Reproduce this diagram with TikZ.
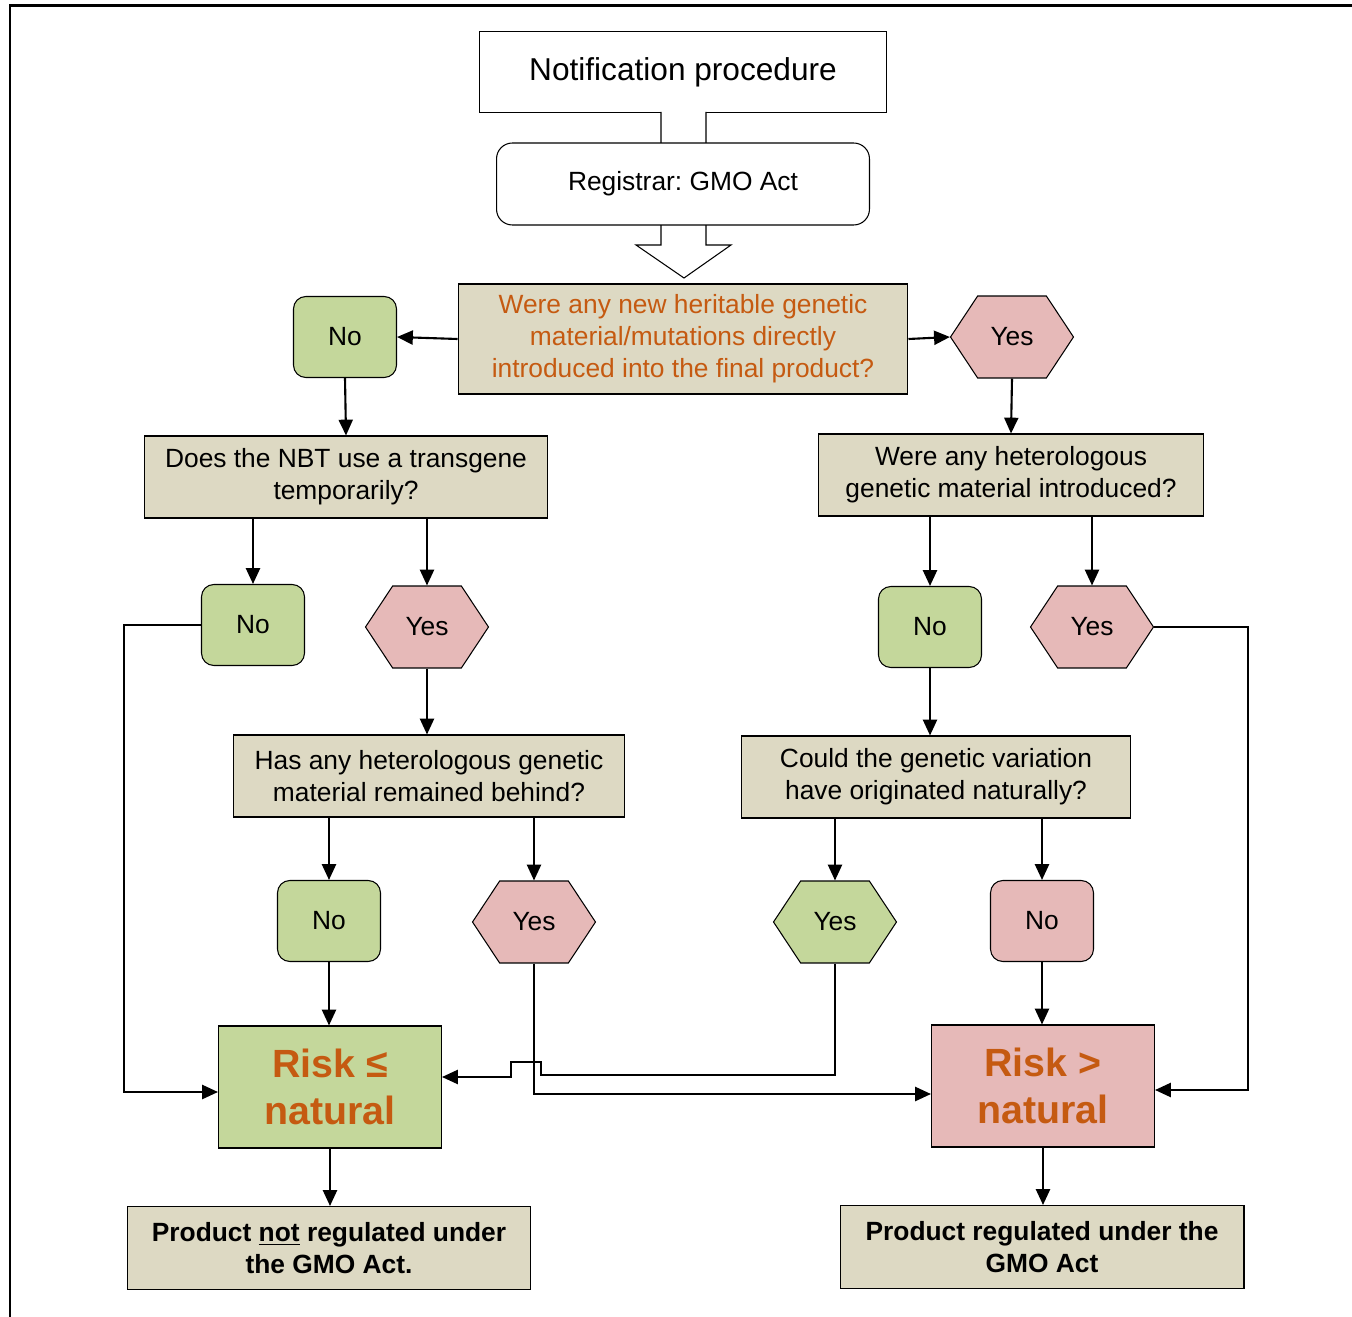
\documentclass[tikz,border=0pt]{standalone}
\usepackage{fontspec}
\setmainfont{Liberation Sans}
\usetikzlibrary{arrows.meta,shapes.symbols}
\frenchspacing

\definecolor{tanfill}{HTML}{DDD9C3}
\definecolor{greenfill}{HTML}{C4D79B}
\definecolor{pinkfill}{HTML}{E6B9B8}
\definecolor{orangetext}{HTML}{C55A11}

\begin{document}
\begin{tikzpicture}[
      x=0.02cm, y=-0.02cm,
      txt/.style={
        font=\fontsize{15}{18.3}\selectfont,
        align=center,
        inner sep=0pt
      },
      question/.style={
        txt,
        draw,
        fill=tanfill,
        line width=0.6pt,
        minimum height=1.64cm
      },
      nobox/.style={
        txt,
        draw,
        rounded corners=7pt,
        line width=0.6pt,
        minimum width=2.06cm,
        minimum height=1.62cm
      },
      yeshex/.style={
        txt,
        draw,
        shape=signal,
        signal to=east and west,
        signal pointer angle=113,
        line width=0.6pt,
        minimum width=2.46cm,
        minimum height=1.64cm
      },
      riskbox/.style={
        draw,
        align=center,
        inner sep=0pt,
        line width=0.6pt,
        text=orangetext,
        font=\fontsize{22.4}{27}\selectfont\bfseries,
        minimum width=4.46cm,
        minimum height=2.44cm
      },
      verdict/.style={
        question,
        font=\fontsize{15}{18.3}\selectfont\bfseries,
        minimum width=8.08cm,
        minimum height=1.66cm
      },
      arr/.style={
        -{Triangle[length=9pt,width=8pt]},
        line width=1.2pt
      }
    ]
    \useasboundingbox (0,0) rectangle (1352,1317);
    \draw[line width=1.7pt] (10,1317) -- (10,6) -- (1352,6);

    % start
    \node[draw, line width=0.6pt, minimum width=8.16cm, minimum height=1.62cm,
          font=\fontsize{18}{22}\selectfont] (notify) at (683,72) {Notification procedure};
    \draw[fill=white, line width=0.6pt] (661,112) -- (661,245) -- (636,245) -- (684,278)
          -- (731,245) -- (706,245) -- (706,112);
    \node[txt, draw, fill=white, rounded corners=9pt, line width=0.6pt,
          minimum width=7.46cm, minimum height=1.64cm] (reg) at (683,184) {Registrar: GMO Act};

    % questions
    \node[question, minimum width=9cm, minimum height=2.2cm, text=orangetext] (q1) at (683,339)
      {Were any new heritable genetic\\ material/mutations directly\\ introduced into the final product?};
    \node[question, minimum width=8.08cm] (q2) at (346,477) {Does the NBT use a transgene\\ temporarily?};
    \node[question, minimum width=7.7cm] (q3) at (1011,475) {Were any heterologous\\ genetic material introduced?};
    \node[question, minimum width=7.82cm] (q4) at (429,776) {Has any heterologous genetic\\ material remained behind?};
    \node[question, minimum width=7.78cm] (q5) at (936,777) {Could the genetic variation\\ have originated naturally?};

    % answers
    \node[nobox, fill=greenfill] (no1) at (345,337) {No};
    \node[yeshex, fill=pinkfill] (yes1) at (1012,337) {Yes};
    \node[nobox, fill=greenfill] (no2) at (253,625) {No};
    \node[yeshex, fill=pinkfill] (yes2) at (427,627) {Yes};
    \node[nobox, fill=greenfill] (no3) at (930,627) {No};
    \node[yeshex, fill=pinkfill] (yes3) at (1092,627) {Yes};
    \node[nobox, fill=greenfill] (no4) at (329,921) {No};
    \node[yeshex, fill=pinkfill] (yes4) at (534,922) {Yes};
    \node[yeshex, fill=greenfill] (yes5) at (835,922) {Yes};
    \node[nobox, fill=pinkfill] (no5) at (1042,921) {No};

    % outcome
    \node[riskbox, fill=greenfill] (r1) at (330,1087) {Risk ≤\\ natural};
    \node[riskbox, fill=pinkfill] (r2) at (1043,1086) {Risk >\\ natural};
    \node[verdict] (b1) at (329,1248) {Product \underline{not} regulated under\\ the GMO Act.};
    \node[verdict] (b2) at (1042,1247) {Product regulated under the\\ GMO Act};

    % connectors
    \draw[arr] (q1.west) -- (no1.east);
    \draw[arr] (q1.east) -- (yes1.west);
    \draw[arr] (no1.south) -- (q2.north);
    \draw[arr] (yes1.south) -- (q3.north);
    \draw[arr] (q2.south -| no2.north) -- (no2.north);
    \draw[arr] (q2.south -| yes2.north) -- (yes2.north);
    \draw[arr] (q3.south -| no3.north) -- (no3.north);
    \draw[arr] (q3.south -| yes3.north) -- (yes3.north);
    \draw[arr] (yes2.south) -- (q4.north -| yes2.south);
    \draw[arr] (no3.south) -- (q5.north -| no3.south);
    \draw[arr] (q4.south -| no4.north) -- (no4.north);
    \draw[arr] (q4.south -| yes4.north) -- (yes4.north);
    \draw[arr] (q5.south -| yes5.north) -- (yes5.north);
    \draw[arr] (q5.south -| no5.north) -- (no5.north);
    \draw[arr] (no4.south) -- (r1.north -| no4.south);
    \draw[arr] (no5.south) -- (r2.north -| no5.south);
    \draw[arr] (no2.west) -- (124,625) -- (124,1092) -- (r1.west |- 0,1092);
    \draw[arr] (yes3.east) -- (1248,627) -- (1248,1090) -- (r2.east |- 0,1090);
    \draw[arr] (yes4.south) -- (534,1094) -- (r2.west |- 0,1094);
    \draw[arr] (yes5.south) -- (835,1075) -- (541,1075) -- (541,1062) -- (511,1062)
          -- (511,1077) -- (r1.east |- 0,1077);
    \draw[arr] (r1.south) -- (b1.north -| r1.south);
    \draw[arr] (r2.south) -- (b2.north -| r2.south);
\end{tikzpicture}
\end{document}
